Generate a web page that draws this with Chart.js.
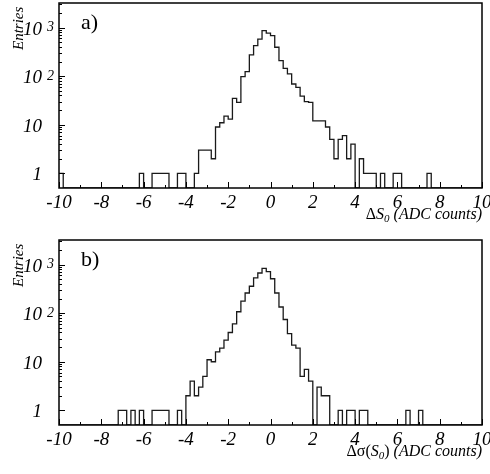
<!DOCTYPE html>
<html>
<head>
<meta charset="utf-8">
<script src="https://cdn.jsdelivr.net/npm/chart.js@4/dist/chart.umd.min.js"></script>
<style>
  body { margin: 0; background: #fff; }
  canvas { display: block; }
</style>
</head>
<body>
<canvas id="chartA" width="490" height="237"></canvas>
<canvas id="chartB" width="490" height="237"></canvas>
<script>
// 100 bins of 0.2 ADC counts, from -10 to 10
const binLow = -10;
const binWidth = 0.2;

// entries per bin, delta S0
const countsA = [
  1, 0, 0, 0, 0, 0, 0, 0, 0, 0,
  0, 0, 0, 0, 0, 0, 0, 0, 0, 1,
  0, 0, 1, 1, 1, 1, 0, 0, 1, 1,
  0, 0, 1, 3, 3, 3, 2, 9, 11, 15,
  13, 35, 29, 98, 124, 273, 426, 578, 865, 770,
  685, 393, 209, 145, 111, 69, 59, 39, 30, 29,
  12, 12, 12, 9, 5, 2, 5, 6, 2, 4,
  0, 2, 1, 1, 1, 0, 1, 0, 0, 1,
  1, 0, 0, 0, 0, 0, 0, 1, 0, 0,
  0, 0, 0, 0, 0, 0, 0, 0, 0, 0
];

// entries per bin, delta sigma(S0)
const countsB = [
  0, 0, 0, 0, 0, 0, 0, 0, 0, 0,
  0, 0, 0, 0, 1, 1, 0, 1, 0, 1,
  0, 0, 1, 1, 1, 1, 0, 0, 1, 0,
  2, 4, 2, 3, 5, 11, 10, 16, 19, 28,
  40, 60, 107, 176, 260, 358, 530, 670, 835, 715,
  510, 260, 134, 74, 38, 22, 19, 5, 7, 4,
  0, 3, 2, 2, 0, 0, 1, 0, 1, 1,
  0, 1, 1, 0, 0, 0, 0, 0, 0, 0,
  0, 0, 1, 0, 0, 1, 0, 0, 0, 0,
  0, 0, 0, 0, 0, 0, 0, 0, 0, 0
];

const xMin = -10, xMax = 10, xStep = 2;
const yMin = 0.5, yMax = 3200;
const yTickValues = [1, 10, 100, 1000];
const yTickBase = ['1', '10', '10', '10'];
const yTickSup = ['', '', '2', '3'];

const serif = '"Liberation Serif", "Times New Roman", serif';

// outline points at the left edge of each bin; empty bins sit on the axis
function stepPoints(counts) {
  const pts = counts.map((c, i) => ({ x: binLow + i * binWidth, y: c > 0 ? c : yMin }));
  pts.push({ x: binLow + counts.length * binWidth, y: pts[pts.length - 1].y });
  return pts;
}

const axisDecor = {
  id: 'axisDecor',
  afterDraw(chart, args, opts) {
    const { ctx, chartArea: a, scales: { x, y } } = chart;
    ctx.save();

    // frame
    ctx.strokeStyle = '#000';
    ctx.lineWidth = 1.5;
    ctx.strokeRect(a.left, a.top, a.right - a.left, a.bottom - a.top);

    // inward ticks
    ctx.lineWidth = 1;
    ctx.beginPath();
    for (let v = xMin; v <= xMax; v++) {
      const px = Math.round(x.getPixelForValue(v)) + 0.5;
      const len = v % 2 === 0 ? 6 : 3;
      ctx.moveTo(px, a.bottom);
      ctx.lineTo(px, a.bottom - len);
    }
    for (const d of yTickValues) {
      for (let m = 1; m <= 9; m++) {
        const v = d * m;
        if (v < yMin || v > yMax) continue;
        const py = Math.round(y.getPixelForValue(v)) + 0.5;
        const len = m === 1 ? 6 : 3;
        ctx.moveTo(a.left, py);
        ctx.lineTo(a.left + len, py);
      }
    }
    ctx.stroke();

    ctx.fillStyle = '#000';

    // x tick labels
    ctx.font = 'italic 19px ' + serif;
    ctx.textAlign = 'center';
    ctx.textBaseline = 'alphabetic';
    x.ticks.forEach(t => {
      ctx.fillText(String(t.value), x.getPixelForValue(t.value), a.bottom + 20);
    });

    // y tick labels with exponents
    yTickValues.forEach((v, i) => {
      const py = y.getPixelForValue(v);
      ctx.font = 'italic 19px ' + serif;
      ctx.textAlign = 'right';
      ctx.fillText(yTickBase[i], 42, py + 7);
      if (yTickSup[i]) {
        ctx.font = 'italic 14px ' + serif;
        ctx.textAlign = 'left';
        ctx.fillText(yTickSup[i], 47, py + 3.5);
      }
    });

    // y axis title
    ctx.save();
    ctx.translate(23, 50);
    ctx.rotate(-Math.PI / 2);
    ctx.font = 'italic 15px ' + serif;
    ctx.textAlign = 'left';
    ctx.fillText('Entries', 0, 0);
    ctx.restore();

    // panel letter
    ctx.font = '22px ' + serif;
    ctx.textAlign = 'left';
    ctx.fillText(opts.letter, 81, 29);

    // x axis title, right-aligned to the frame
    const fonts = { r: '16px ' + serif, i: 'italic 16px ' + serif, s: 'italic 11px ' + serif };
    let total = 0;
    opts.title.forEach(([txt, st]) => { ctx.font = fonts[st]; total += ctx.measureText(txt).width; });
    let cx = a.right - total;
    ctx.textAlign = 'left';
    opts.title.forEach(([txt, st]) => {
      ctx.font = fonts[st];
      ctx.fillText(txt, cx, a.bottom + (st === 's' ? 34 : 31));
      cx += ctx.measureText(txt).width;
    });

    ctx.restore();
  }
};

function makeHist(id, counts, letter, title) {
  return new Chart(document.getElementById(id).getContext('2d'), {
    type: 'line',
    data: {
      datasets: [{
        data: stepPoints(counts),
        stepped: 'before',
        borderColor: '#1a1a1a',
        borderWidth: 1.3,
        pointRadius: 0,
        fill: false
      }]
    },
    options: {
      responsive: false,
      animation: false,
      layout: { autoPadding: false, padding: { left: 0, right: 8, top: 3, bottom: 0 } },
      plugins: {
        legend: { display: false },
        tooltip: { enabled: false },
        axisDecor: { letter: letter, title: title }
      },
      scales: {
        x: {
          type: 'linear',
          min: xMin,
          max: xMax,
          grid: { display: false },
          border: { display: false },
          ticks: { display: false, stepSize: xStep },
          afterFit: s => { s.height = 49; }
        },
        y: {
          type: 'logarithmic',
          min: yMin,
          max: yMax,
          grid: { display: false },
          border: { display: false },
          ticks: { display: false },
          afterFit: s => { s.width = 59; }
        }
      }
    },
    plugins: [axisDecor]
  });
}

makeHist('chartA', countsA, 'a)', [['Δ', 'r'], ['S', 'i'], ['0', 's'], [' (ADC counts)', 'i']]);
makeHist('chartB', countsB, 'b)', [['Δσ(', 'r'], ['S', 'i'], ['0', 's'], [')', 'r'], [' (ADC counts)', 'i']]);
</script>
</body>
</html>
